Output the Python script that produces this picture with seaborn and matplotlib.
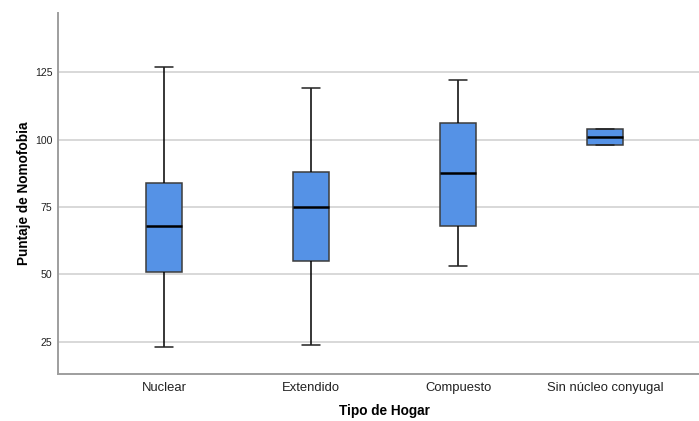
import numpy as np
import pandas as pd
import matplotlib
matplotlib.use("Agg")
import matplotlib.pyplot as plt
import seaborn as sns

# Five-number summaries of the nomophobia score by household type
categories = ["Nuclear", "Extendido", "Compuesto", "Sin núcleo conyugal"]
whisker_low = [23, 24, 53, 98]
q1 = [51, 55, 68, 98]
median = [68, 75, 87.5, 101]
q3 = [84, 88, 106, 104]
whisker_high = [127, 119, 122, 104]
y_ticks = [25, 50, 75, 100, 125]

# Five points per group reproduce the quartiles exactly (linear percentiles, n=5)
rows = []
for cat, lo, a, m, b, hi in zip(categories, whisker_low, q1, median, q3, whisker_high):
    for v in (lo, a, m, b, hi):
        rows.append({"Tipo de Hogar": cat, "Puntaje de Nomofobia": v})
df = pd.DataFrame(rows)

sns.set_theme(style="white")
plt.rcParams["font.family"] = ["Liberation Sans", "DejaVu Sans"]

fig = plt.figure(figsize=(6.99, 4.21), dpi=100)
ax = fig.add_axes([58 / 699, 1 - 374 / 421, (711 - 58) / 699, (374 - 13) / 421])

edge = "#3c3c3c"
sns.boxplot(
    data=df, x="Tipo de Hogar", y="Puntaje de Nomofobia", order=categories,
    color="#5592e6", saturation=1, width=0.25, whis=np.inf, linewidth=1.1,
    boxprops=dict(edgecolor=edge),
    whiskerprops=dict(color="black"),
    capprops=dict(color="#222222"),
    medianprops=dict(color="black", linewidth=1.8),
    ax=ax,
)

ax.set_xlim(-0.72, 3.72)
ax.set_ylim(13.1, 146.9)
ax.set_yticks(y_ticks)
ax.set_yticklabels([str(t) for t in y_ticks], fontsize=7.6, color="#222222")
ax.tick_params(axis="x", labelsize=9.4, colors="#222222", length=0, pad=6)
ax.tick_params(axis="y", length=0, pad=4)
ax.grid(axis="y", color="#d6d6d6", linewidth=1.3)
ax.set_axisbelow(True)

for side in ("top", "right"):
    ax.spines[side].set_visible(False)
for side in ("left", "bottom"):
    ax.spines[side].set_color("#9e9e9e")
    ax.spines[side].set_linewidth(1.4)

ax.set_xlabel("Tipo de Hogar", fontsize=9.8, fontweight="bold", color="black", labelpad=7)
ax.set_ylabel("Puntaje de Nomofobia", fontsize=9.8, fontweight="bold", color="black", labelpad=3)

fig.savefig("out.png", dpi=100)
